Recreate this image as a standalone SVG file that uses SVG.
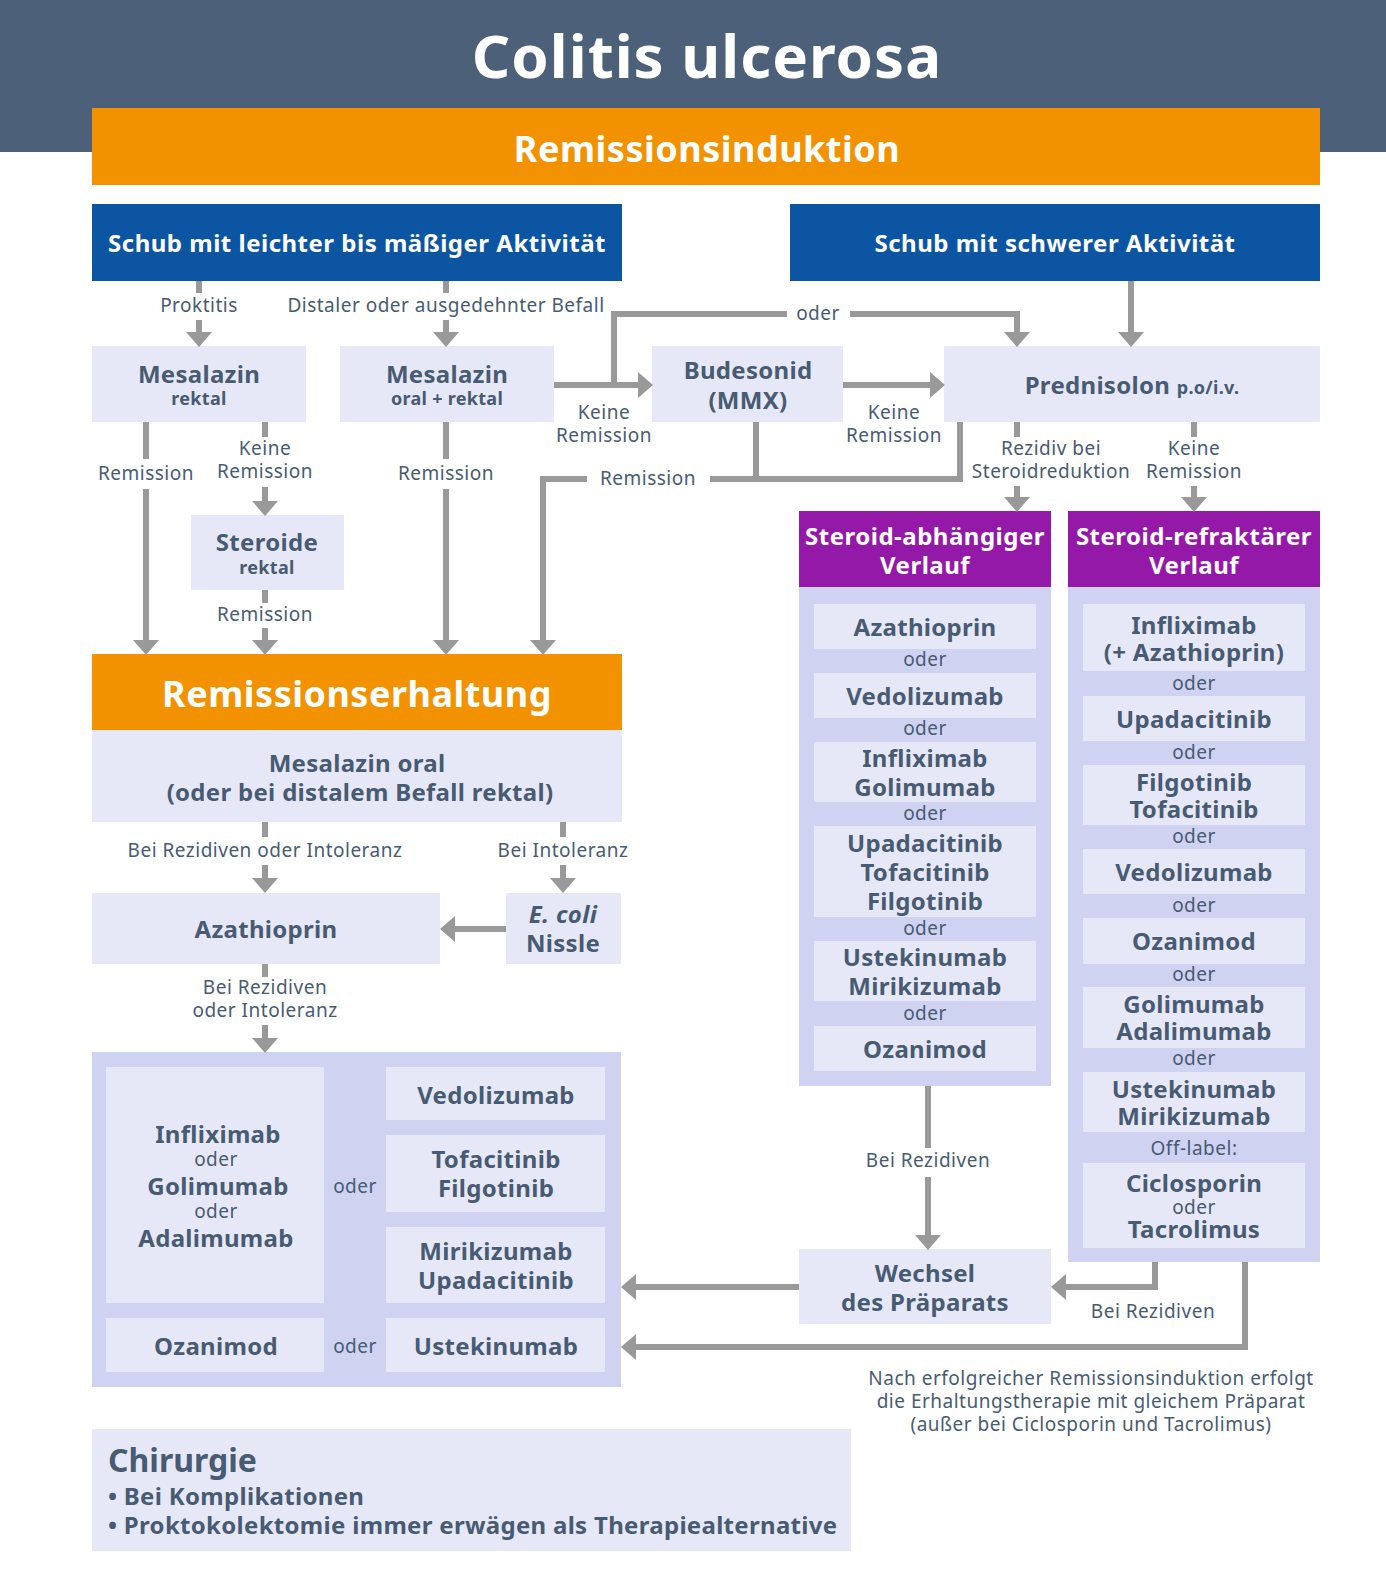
<svg xmlns="http://www.w3.org/2000/svg" width="1386" height="1582" viewBox="0 0 1386 1582">
<style>
text{font-family:"Noto Sans","Open Sans",sans-serif;fill:#475B73;text-anchor:middle}
.b{font-weight:700}
.w{fill:#fff}
.h{font-size:24px;font-weight:700;fill:#fff;letter-spacing:0.5px}
.n{font-size:24px;font-weight:700;letter-spacing:0.3px}
.s{font-size:18px;font-weight:700;letter-spacing:0.3px}
.l{font-size:19px;font-weight:400;letter-spacing:0.5px}
.o{font-size:19px;font-weight:400;letter-spacing:0.5px}
.st{text-anchor:start}
.box{fill:#E7E8F7}
.pan{fill:#CFD2F1}
.blue{fill:#0B55A3}
.pur{fill:#9419A8}
.org{fill:#F39200}
.c{fill:none;stroke:#999;stroke-width:6}
.a{marker-end:url(#ah)}
</style>
<defs>
<marker id="ah" viewBox="0 0 15 26" markerWidth="15" markerHeight="26" markerUnits="userSpaceOnUse" refX="1" refY="13" orient="auto">
<path d="M0,0 L15,13 L0,26 Z" fill="#999"/>
</marker>
</defs>
<rect width="1386" height="1582" fill="#fff"/>
<g id="header">
<rect x="0" y="0" width="1386" height="152" fill="#4C6079"/>
<text x="707" y="78" class="b w" font-size="60" letter-spacing="1">Colitis ulcerosa</text>
</g>
<g id="induktion">
<rect x="92" y="108" width="1228" height="77" class="org"/>
<text x="707" y="162" class="b w" font-size="36" letter-spacing="0.5">Remissionsinduktion</text>
</g>
<g id="schub-leicht">
<rect x="92" y="204" width="530" height="77" class="blue"/>
<text x="357" y="252" class="h">Schub mit leichter bis mäßiger Aktivität</text>
</g>
<g id="schub-schwer">
<rect x="790" y="204" width="530" height="77" class="blue"/>
<text x="1055" y="252" class="h">Schub mit schwerer Aktivität</text>
</g>
<g id="mesalazin-rektal">
<rect x="92" y="346" width="214" height="76" class="box"/>
<text x="199" y="383" class="n">Mesalazin</text>
<text x="199" y="405" class="s">rektal</text>
</g>
<g id="mesalazin-oral-rektal">
<rect x="340" y="346" width="214" height="76" class="box"/>
<text x="447" y="383" class="n">Mesalazin</text>
<text x="447" y="405" class="s">oral + rektal</text>
</g>
<g id="budesonid">
<rect x="652" y="346" width="191" height="76" class="box"/>
<text x="748" y="379" class="n">Budesonid</text>
<text x="748" y="409" class="n">(MMX)</text>
</g>
<g id="prednisolon">
<rect x="944" y="346" width="376" height="76" class="box"/>
<text x="1132" y="394" class="n">Prednisolon <tspan class="s">p.o/i.v.</tspan></text>
</g>
<g id="steroide-rektal">
<rect x="191" y="515" width="153" height="75" class="box"/>
<text x="267" y="551" class="n">Steroide</text>
<text x="267" y="574" class="s">rektal</text>
</g>
<g id="steroid-abhaengig">
<rect x="799" y="511" width="252" height="76" class="pur"/>
<text x="925" y="545" class="h">Steroid-abhängiger</text>
<text x="925" y="574" class="h">Verlauf</text>
<rect x="799" y="587" width="252" height="499" class="pan"/>
<rect x="814" y="604" width="222" height="45" class="box"/>
<text x="925" y="636" class="n">Azathioprin</text>
<text x="925" y="666" class="o">oder</text>
<rect x="814" y="673" width="222" height="45" class="box"/>
<text x="925" y="705" class="n">Vedolizumab</text>
<text x="925" y="735" class="o">oder</text>
<rect x="814" y="742" width="222" height="60" class="box"/>
<text x="925" y="767" class="n">Infliximab</text>
<text x="925" y="796" class="n">Golimumab</text>
<text x="925" y="820" class="o">oder</text>
<rect x="814" y="826" width="222" height="91" class="box"/>
<text x="925" y="852" class="n">Upadacitinib</text>
<text x="925" y="881" class="n">Tofacitinib</text>
<text x="925" y="910" class="n">Filgotinib</text>
<text x="925" y="935" class="o">oder</text>
<rect x="814" y="941" width="222" height="60" class="box"/>
<text x="925" y="966" class="n">Ustekinumab</text>
<text x="925" y="995" class="n">Mirikizumab</text>
<text x="925" y="1020" class="o">oder</text>
<rect x="814" y="1026" width="222" height="45" class="box"/>
<text x="925" y="1058" class="n">Ozanimod</text>
</g>
<g id="steroid-refraktaer">
<rect x="1068" y="511" width="252" height="76" class="pur"/>
<text x="1194" y="545" class="h">Steroid-refraktärer</text>
<text x="1194" y="574" class="h">Verlauf</text>
<rect x="1068" y="587" width="252" height="675" class="pan"/>
<rect x="1083" y="604" width="222" height="67" class="box"/>
<text x="1194" y="634" class="n">Infliximab</text>
<text x="1194" y="661" class="n">(+ Azathioprin)</text>
<text x="1194" y="690" class="o">oder</text>
<rect x="1083" y="696" width="222" height="45" class="box"/>
<text x="1194" y="728" class="n">Upadacitinib</text>
<text x="1194" y="759" class="o">oder</text>
<rect x="1083" y="765" width="222" height="60" class="box"/>
<text x="1194" y="791" class="n">Filgotinib</text>
<text x="1194" y="818" class="n">Tofacitinib</text>
<text x="1194" y="843" class="o">oder</text>
<rect x="1083" y="849" width="222" height="45" class="box"/>
<text x="1194" y="881" class="n">Vedolizumab</text>
<text x="1194" y="912" class="o">oder</text>
<rect x="1083" y="918" width="222" height="46" class="box"/>
<text x="1194" y="950" class="n">Ozanimod</text>
<text x="1194" y="981" class="o">oder</text>
<rect x="1083" y="987" width="222" height="61" class="box"/>
<text x="1194" y="1013" class="n">Golimumab</text>
<text x="1194" y="1040" class="n">Adalimumab</text>
<text x="1194" y="1065" class="o">oder</text>
<rect x="1083" y="1072" width="222" height="60" class="box"/>
<text x="1194" y="1098" class="n">Ustekinumab</text>
<text x="1194" y="1125" class="n">Mirikizumab</text>
<text x="1194" y="1155" class="o">Off-label:</text>
<rect x="1083" y="1163" width="222" height="85" class="box"/>
<text x="1194" y="1192" class="n">Ciclosporin</text>
<text x="1194" y="1214" class="o">oder</text>
<text x="1194" y="1238" class="n">Tacrolimus</text>
</g>
<g id="remissionserhaltung">
<rect x="92" y="654" width="530" height="76" class="org"/>
<text x="357" y="707" class="b w" font-size="36" letter-spacing="0.5">Remissionserhaltung</text>
</g>
<g id="mesalazin-oral">
<rect x="92" y="730" width="530" height="92" class="box"/>
<text x="357" y="772" class="n">Mesalazin oral</text>
<text x="360" y="801" class="n" letter-spacing="0.7">(oder bei distalem Befall rektal)</text>
</g>
<g id="azathioprin">
<rect x="92" y="893" width="348" height="71" class="box"/>
<text x="266" y="938" class="n">Azathioprin</text>
</g>
<g id="ecoli">
<rect x="506" y="893" width="115" height="71" class="box"/>
<text x="563" y="923" class="n" font-style="italic">E. coli</text>
<text x="563" y="952" class="n">Nissle</text>
</g>
<g id="biologika">
<rect x="92" y="1052" width="529" height="335" class="pan"/>
<rect x="106" y="1067" width="218" height="236" class="box"/>
<text x="218" y="1143" class="n">Infliximab</text>
<text x="216" y="1166" class="o">oder</text>
<text x="218" y="1195" class="n">Golimumab</text>
<text x="216" y="1218" class="o">oder</text>
<text x="216" y="1247" class="n">Adalimumab</text>
<text x="355" y="1193" class="o">oder</text>
<rect x="386" y="1067" width="219" height="53" class="box"/>
<text x="496" y="1104" class="n">Vedolizumab</text>
<rect x="386" y="1135" width="219" height="77" class="box"/>
<text x="496" y="1168" class="n">Tofacitinib</text>
<text x="496" y="1197" class="n">Filgotinib</text>
<rect x="386" y="1227" width="219" height="76" class="box"/>
<text x="496" y="1260" class="n">Mirikizumab</text>
<text x="496" y="1289" class="n">Upadacitinib</text>
<rect x="106" y="1318" width="218" height="54" class="box"/>
<text x="216" y="1355" class="n">Ozanimod</text>
<text x="355" y="1353" class="o">oder</text>
<rect x="386" y="1318" width="219" height="54" class="box"/>
<text x="496" y="1355" class="n">Ustekinumab</text>
</g>
<g id="wechsel">
<rect x="799" y="1249" width="252" height="75" class="box"/>
<text x="925" y="1282" class="n">Wechsel</text>
<text x="925" y="1311" class="n">des Präparats</text>
</g>
<g id="hinweis">
<text x="1091" y="1385" class="l">Nach erfolgreicher Remissionsinduktion erfolgt</text>
<text x="1091" y="1408" class="l">die Erhaltungstherapie mit gleichem Präparat</text>
<text x="1091" y="1431" class="l">(außer bei Ciclosporin und Tacrolimus)</text>
</g>
<g id="chirurgie">
<rect x="92" y="1429" width="759" height="122" class="box"/>
<text x="108" y="1472" class="b st" font-size="32">Chirurgie</text>
<text x="108" y="1505" class="b st" font-size="24" letter-spacing="0.3">• Bei Komplikationen</text>
<text x="108" y="1534" class="b st" font-size="24" letter-spacing="0.3">• Proktokolektomie immer erwägen als Therapiealternative</text>
</g>
<g id="connectors">
<path class="c" d="M199,281 V293"/>
<path class="c a" d="M199,320 V333"/>
<path class="c" d="M446,281 V293"/>
<path class="c a" d="M446,320 V333"/>
<path class="c" d="M146,422 V459"/>
<path class="c a" d="M146,489 V641"/>
<path class="c" d="M265,422 V437"/>
<path class="c a" d="M265,487 V502"/>
<path class="c" d="M265,590 V603"/>
<path class="c a" d="M265,628 V641"/>
<path class="c" d="M446,422 V459"/>
<path class="c a" d="M446,489 V641"/>
<path class="c a" d="M554,385 H639"/>
<path class="c" d="M614,385 V314 H787"/>
<path class="c a" d="M850,314 H1017 V333"/>
<path class="c a" d="M843,385 H931"/>
<path class="c a" d="M1131,281 V333"/>
<path class="c" d="M756,422 V479"/>
<path class="c" d="M960,422 V479 H710"/>
<path class="c a" d="M587,479 H543 V641"/>
<path class="c" d="M1017,422 V437"/>
<path class="c a" d="M1017,486 V498"/>
<path class="c" d="M1194,422 V437"/>
<path class="c a" d="M1194,486 V498"/>
<path class="c" d="M265,822 V837"/>
<path class="c a" d="M265,865 V879"/>
<path class="c" d="M563,822 V837"/>
<path class="c a" d="M563,865 V879"/>
<path class="c a" d="M506,929 H454"/>
<path class="c" d="M265,964 V977"/>
<path class="c a" d="M265,1025 V1039"/>
<path class="c" d="M928,1086 V1148"/>
<path class="c a" d="M928,1177 V1236"/>
<path class="c a" d="M799,1287 H635"/>
<path class="c a" d="M1155,1262 V1287 H1065"/>
<path class="c a" d="M1245,1262 V1347 H635"/>
<text x="199" y="312" class="l">Proktitis</text>
<text x="446" y="312" class="l">Distaler oder ausgedehnter Befall</text>
<text x="146" y="480" class="l">Remission</text>
<text x="265" y="455" class="l">Keine</text>
<text x="265" y="478" class="l">Remission</text>
<text x="265" y="621" class="l">Remission</text>
<text x="446" y="480" class="l">Remission</text>
<text x="604" y="419" class="l">Keine</text>
<text x="604" y="442" class="l">Remission</text>
<text x="818" y="320" class="l">oder</text>
<text x="894" y="419" class="l">Keine</text>
<text x="894" y="442" class="l">Remission</text>
<text x="648" y="485" class="l">Remission</text>
<text x="1051" y="455" class="l">Rezidiv bei</text>
<text x="1051" y="478" class="l">Steroidreduktion</text>
<text x="1194" y="455" class="l">Keine</text>
<text x="1194" y="478" class="l">Remission</text>
<text x="265" y="857" class="l">Bei Rezidiven oder Intoleranz</text>
<text x="563" y="857" class="l">Bei Intoleranz</text>
<text x="265" y="994" class="l">Bei Rezidiven</text>
<text x="265" y="1017" class="l">oder Intoleranz</text>
<text x="928" y="1167" class="l">Bei Rezidiven</text>
<text x="1153" y="1318" class="l">Bei Rezidiven</text>
</g>
</svg>
